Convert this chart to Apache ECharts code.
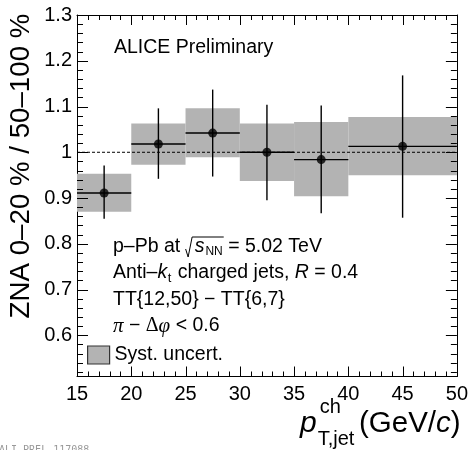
<!DOCTYPE html>
<html><head><meta charset="utf-8">
<script src="https://cdn.jsdelivr.net/npm/echarts@6/dist/echarts.min.js"></script>
<style>html,body{margin:0;padding:0;background:#fff}#c{width:471px;height:450px}</style>
</head><body><div id="c"></div>
<script>
// ---- data ----
const binLow   = [15, 20, 25, 30, 35, 40];
const binHigh  = [20, 25, 30, 35, 40, 50];
const centers  = [17.5, 22.5, 27.5, 32.5, 37.5, 45];
const values   = [0.911, 1.018, 1.042, 1.000, 0.984, 1.013];
const statLow  = [0.855, 0.942, 0.947, 0.895, 0.867, 0.857];
const statHigh = [0.971, 1.096, 1.137, 1.104, 1.102, 1.168];
const systLow  = [0.870, 0.973, 0.989, 0.937, 0.904, 0.950];
const systHigh = [0.953, 1.063, 1.096, 1.063, 1.066, 1.077];
const xRange = [15, 50];
const yRange = [0.51, 1.3];
const xMajorTicks = [15, 20, 25, 30, 35, 40, 45, 50];
const yTicks = [0.6, 0.7, 0.8, 0.9, 1.0, 1.1, 1.2, 1.3];
const yTickLabels = ['0.6', '0.7', '0.8', '0.9', '1', '1.1', '1.2', '1.3'];
const xMinorTicks = [];
for (let v = 16; v < 50; v++) { if (v % 5 !== 0) xMinorTicks.push(v); }
const yMinorTicks = [];
for (let i = 26; i <= 64; i++) { if (i % 5 !== 0) yMinorTicks.push(i / 50); }

const FONT = 'Liberation Sans';
const SERIF = 'Liberation Serif';
const chart = echarts.init(document.getElementById('c'), null, {renderer: 'canvas'});

// ---- text helper ----
const mctx = document.createElement('canvas').getContext('2d');
function measure(s) {
  mctx.font = (s.italic ? 'italic ' : '') + s.size + 'px "' + s.family + '"';
  return mctx.measureText(s.t).width;
}
function textLine(x, cy, segs, out) {
  let cx = x; let radStart = null;
  segs.forEach(s0 => {
    const s = Object.assign({size: 19.5, family: FONT, italic: false, dy: 0}, s0);
    if (s.rad) { radStart = cx; cx += s.w; return; }
    if (s.radEnd) {
      const x0 = radStart;
      out.push({type: 'polyline', silent: true, shape: {points: [[x0, cy + 2], [x0 + 2.5, cy + 10], [x0 + 6.5, cy - 10], [cx + 1, cy - 10]]},
        style: {stroke: '#000', lineWidth: 1, fill: null}});
      return;
    }
    const w = measure(s);
    out.push({type: 'text', silent: true, x: cx, y: cy + s.dy,
      style: {text: s.t, fontSize: s.size, fontFamily: s.family, fontStyle: s.italic ? 'italic' : 'normal',
        fill: '#000', align: 'left', verticalAlign: 'middle'}});
    cx += w + (s.after || 0);
  });
}

const graphics = [];
textLine(114, 48, [{t: 'ALICE Preliminary'}], graphics);
textLine(113, 247, [{t: 'p–Pb at '}, {rad: true, w: 9}, {t: 's', italic: true, after: 1}, {t: 'NN', size: 12, dy: 5}, {radEnd: true}, {t: ' = 5.02 TeV'}], graphics);
textLine(113, 273, [{t: 'Anti–'}, {t: 'k', italic: true, after: 0.5}, {t: 't', size: 13, dy: 5, after: 1}, {t: ' charged jets, '}, {t: 'R', italic: true}, {t: ' = 0.4'}], graphics);
textLine(113, 300, [{t: 'TT{12,50} − TT{6,7}'}], graphics);
textLine(113, 326, [{t: 'π', italic: true, family: SERIF, size: 21}, {t: ' − '}, {t: 'Δ', family: SERIF, size: 20}, {t: 'φ', italic: true, family: SERIF, size: 21}, {t: ' < 0.6'}], graphics);
// x axis title
(function () {
  const x0 = 300;
  graphics.push({type: 'text', silent: true, x: x0, y: 424, style: {text: 'p', fontSize: 30, fontFamily: FONT, fontStyle: 'italic', fill: '#000', align: 'left', verticalAlign: 'middle'}});
  const xs = x0 + measure({t: 'p', size: 30, family: FONT, italic: true}) + 3;
  graphics.push({type: 'text', silent: true, x: xs, y: 407, style: {text: 'ch', fontSize: 20, fontFamily: FONT, fill: '#000', align: 'left', verticalAlign: 'middle'}});
  graphics.push({type: 'text', silent: true, x: xs - 2, y: 439, style: {text: 'T,jet', fontSize: 20, fontFamily: FONT, fill: '#000', align: 'left', verticalAlign: 'middle'}});
  textLine(359, 424, [{t: '(GeV/', size: 29.5}, {t: 'c', size: 29.5, italic: true}, {t: ')', size: 29.5}], graphics);
})();
// y axis title
graphics.push({type: 'text', silent: true, x: 21, y: 166, rotation: Math.PI / 2,
  style: {text: 'ZNA 0–20 % / 50–100 %', fontSize: 27.7, fontFamily: FONT, fill: '#000', align: 'center', verticalAlign: 'middle'}});
// watermark
graphics.push({type: 'text', silent: true, x: -1, y: 445,
  style: {text: 'ALI-PREL-117088', fontSize: 10, fontFamily: 'DejaVu Sans Mono', fill: '#999', align: 'left', verticalAlign: 'top'}});

// ---- axes (frame + labels) ----
function ls() { return {color: '#000', width: 1}; }
function yAx(pos) {
  return {
    type: 'value', min: yRange[0], max: yRange[1], position: pos,
    splitLine: {show: false},
    axisLine: {show: true, onZero: false, lineStyle: ls()},
    axisTick: {show: false},
    axisLabel: pos === 'left' ? {
      show: true, customValues: yTicks, fontSize: 20, fontFamily: FONT, color: '#000', margin: 5,
      formatter: v => { let b = 0; yTicks.forEach((t, i) => { if (Math.abs(t - v) < Math.abs(yTicks[b] - v)) b = i; }); return yTickLabels[b]; }
    } : {show: false}
  };
}
function xAx(pos) {
  return {
    type: 'value', min: xRange[0], max: xRange[1], interval: 5, position: pos,
    splitLine: {show: false},
    axisLine: {show: true, onZero: false, lineStyle: ls()},
    axisTick: {show: false},
    axisLabel: pos === 'bottom' ? {show: true, fontSize: 20, fontFamily: FONT, color: '#000', margin: 8} : {show: false}
  };
}

// ---- tick marks drawn through the axes' scales (both sides, pointing inward) ----
function tickSeries(vals, dir, len) {
  return {
    type: 'custom', silent: true, z: 6, xAxisIndex: 0, yAxisIndex: 0, clip: false,
    data: vals.map(v => dir === 'x' ? [v, yRange[0]] : [xRange[0], v]),
    encode: {x: 0, y: 1},
    renderItem: (params, api) => {
      const st = {stroke: '#000', lineWidth: 1};
      if (dir === 'x') {
        const v = api.value(0);
        const a = api.coord([v, yRange[0]]);
        const b = api.coord([v, yRange[1]]);
        const x = Math.round(a[0]) + 0.5;
        return {type: 'group', children: [
          {type: 'line', shape: {x1: x, y1: a[1], x2: x, y2: a[1] - len}, style: st},
          {type: 'line', shape: {x1: x, y1: b[1], x2: x, y2: b[1] + len}, style: st}
        ]};
      }
      const v = api.value(1);
      const a = api.coord([xRange[0], v]);
      const b = api.coord([xRange[1], v]);
      const y = Math.round(a[1]) + 0.5;
      return {type: 'group', children: [
        {type: 'line', shape: {x1: a[0], y1: y, x2: a[0] + len, y2: y}, style: st},
        {type: 'line', shape: {x1: b[0], y1: y, x2: b[0] - len, y2: y}, style: st}
      ]};
    }
  };
}

const systData = binLow.map((l, i) => [l, binHigh[i], systLow[i], systHigh[i]]);
const statData = centers.map((c, i) => [c, values[i], binLow[i], binHigh[i], statLow[i], statHigh[i]]);
const pointData = centers.map((c, i) => [c, values[i]]);

chart.setOption({
  animation: false,
  backgroundColor: '#fff',
  grid: {left: 77, right: 13.5, top: 15, bottom: 73.5},
  xAxis: [xAx('bottom'), xAx('top')],
  yAxis: [yAx('left'), yAx('right')],
  legend: {
    left: 87, top: 345, padding: 0, itemWidth: 22, itemHeight: 18, selectedMode: false,
    textStyle: {fontSize: 19.5, fontFamily: FONT, color: '#000'},
    data: [{name: 'Syst. uncert.', icon: 'rect', itemStyle: {color: '#b3b3b3', borderColor: '#333', borderWidth: 1.2}}]
  },
  graphic: graphics,
  series: [
    {
      name: 'Syst. uncert.', type: 'custom', xAxisIndex: 0, yAxisIndex: 0, z: 1,
      data: systData, encode: {x: [0, 1], y: [2, 3]},
      itemStyle: {color: '#b3b3b3'},
      renderItem: (params, api) => {
        const p0 = api.coord([api.value(0), api.value(3)]);
        const p1 = api.coord([api.value(1), api.value(2)]);
        return {type: 'rect', shape: {x: p0[0], y: p0[1], width: p1[0] - p0[0], height: p1[1] - p0[1]},
          style: {fill: '#b3b3b3'}};
      }
    },
    {
      name: 'unity', type: 'line', xAxisIndex: 0, yAxisIndex: 0, z: 3, symbol: 'none', silent: true,
      data: [[15, 1], [50, 1]], lineStyle: {color: '#000', width: 1, type: [3, 2]}
    },
    {
      name: 'stat', type: 'custom', xAxisIndex: 0, yAxisIndex: 0, z: 4,
      data: statData, encode: {x: [2, 3], y: [4, 5]},
      renderItem: (params, api) => {
        const y = api.value(1);
        const a = api.coord([api.value(2), y]);
        const b = api.coord([api.value(3), y]);
        const lo = api.coord([api.value(0), api.value(4)]);
        const hi = api.coord([api.value(0), api.value(5)]);
        return {type: 'group', children: [
          {type: 'line', shape: {x1: a[0], y1: a[1], x2: b[0], y2: b[1]}, style: {stroke: '#000', lineWidth: 1.4}},
          {type: 'line', shape: {x1: lo[0], y1: lo[1], x2: hi[0], y2: hi[1]}, style: {stroke: '#000', lineWidth: 1.4}}
        ]};
      }
    },
    {
      name: 'points', type: 'scatter', xAxisIndex: 0, yAxisIndex: 0, z: 5,
      data: pointData, symbol: 'circle', symbolSize: 9, itemStyle: {color: '#000'}
    },
    tickSeries(xMajorTicks, 'x', 10),
    tickSeries(xMinorTicks, 'x', 5),
    tickSeries(yTicks, 'y', 11),
    tickSeries(yMinorTicks, 'y', 6)
  ]
});
</script>
</body></html>
